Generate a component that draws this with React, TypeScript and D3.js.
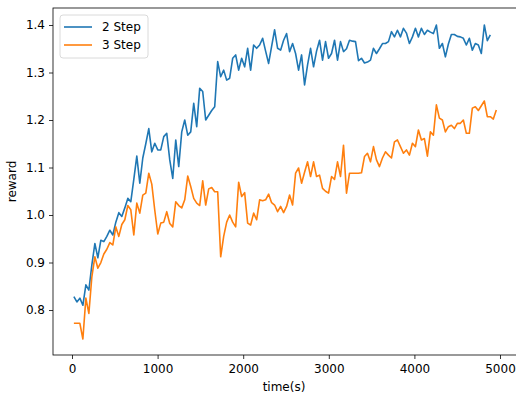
import React, { useEffect, useRef } from "react";
import * as d3 from "d3";

// reward per time step
const step2 = [
  0.828, 0.817, 0.825, 0.81, 0.853, 0.842, 0.895, 0.94, 0.91, 0.947,
  0.944, 0.955, 0.968, 0.958, 0.985, 1.005, 0.997, 1.015, 1.035, 1.028,
  1.075, 1.124, 1.067, 1.12, 1.15, 1.182, 1.133, 1.151, 1.137, 1.137,
  1.165, 1.172, 1.116, 1.077, 1.158, 1.102, 1.175, 1.2, 1.168, 1.175,
  1.235, 1.186, 1.267, 1.26, 1.2, 1.21, 1.22, 1.228, 1.323, 1.291,
  1.305, 1.284, 1.288, 1.33, 1.337, 1.305, 1.33, 1.312, 1.351, 1.305,
  1.358, 1.351, 1.358, 1.372, 1.345, 1.319, 1.355, 1.39, 1.351, 1.347,
  1.368, 1.382, 1.344, 1.361, 1.34, 1.305, 1.337, 1.274, 1.316, 1.351,
  1.312, 1.345, 1.368, 1.326, 1.365, 1.33, 1.34, 1.368, 1.326, 1.365,
  1.344, 1.35, 1.368, 1.366, 1.365, 1.325, 1.33, 1.32, 1.322, 1.326,
  1.351, 1.34, 1.35, 1.361, 1.361, 1.365, 1.386, 1.375, 1.389, 1.375,
  1.393, 1.383, 1.361, 1.375, 1.393, 1.375, 1.393, 1.38, 1.389, 1.385,
  1.382, 1.4, 1.351, 1.361, 1.333, 1.36, 1.38, 1.38, 1.376, 1.375,
  1.372, 1.358, 1.372, 1.347, 1.361, 1.358, 1.34, 1.4, 1.367, 1.379,
];

const step3 = [
  0.772, 0.772, 0.772, 0.739, 0.825, 0.793, 0.87, 0.912, 0.888, 0.9,
  0.918, 0.928, 0.942, 0.937, 0.975, 0.955, 0.98, 0.99, 1.02, 1.011,
  0.958, 1.025, 1.004, 1.042, 1.046, 1.088, 1.065, 1.01, 0.96, 0.983,
  0.985, 1.007, 0.982, 0.975, 1.028, 1.02, 1.015, 1.032, 1.082, 1.06,
  1.035, 1.025, 1.02, 1.072, 1.021, 1.055, 1.058, 1.049, 1.049, 0.912,
  0.955, 0.985, 1.0, 0.985, 0.975, 1.069, 1.039, 1.047, 0.983, 0.979,
  1.004, 0.99, 1.032, 1.03, 1.032, 1.044, 1.026, 1.021, 1.007, 1.018,
  1.005, 1.018, 1.042, 1.021, 1.088, 1.099, 1.067, 1.09, 1.112, 1.081,
  1.112, 1.081, 1.084, 1.056, 1.05, 1.046, 1.081, 1.075, 1.112, 1.081,
  1.147, 1.046, 1.088, 1.088, 1.088, 1.088, 1.089, 1.123, 1.13, 1.112,
  1.144, 1.116, 1.102, 1.12, 1.133, 1.126, 1.12, 1.154, 1.158, 1.144,
  1.13, 1.137, 1.126, 1.151, 1.144, 1.179, 1.158, 1.161, 1.124, 1.175,
  1.168, 1.232, 1.204, 1.2, 1.175, 1.186, 1.189, 1.182, 1.193, 1.193,
  1.2, 1.172, 1.172, 1.225, 1.228, 1.22, 1.23, 1.24, 1.207, 1.207,
  1.202, 1.221,
];

// sample times (s), logged every ~35 s
const t0 = 22;
const dt = 35;

const xTicks = [0, 1000, 2000, 3000, 4000, 5000];
const yTicks = [0.8, 0.9, 1.0, 1.1, 1.2, 1.3, 1.4];

const seriesNames = ["2 Step", "3 Step"];
const colors = ["#1f77b4", "#ff7f0e"];

const W = 516;
const H = 394;
// right spine sits just past the picture's edge
const margin = { left: 53, right: 0, top: 8, bottom: 39 };

export default function App() {
  const ref = useRef<SVGSVGElement>(null);

  useEffect(() => {
    const svg = d3.select(ref.current);
    svg.selectAll("*").remove();

    const x = d3.scaleLinear().domain([-222, 5187]).range([margin.left, W - margin.right]);
    const y = d3.scaleLinear().domain([0.7053, 1.4358]).range([H - margin.bottom, margin.top]);

    const font = "DejaVu Sans, sans-serif";

    const line = d3
      .line<number>()
      .x((d, i) => x(t0 + i * dt))
      .y((d) => y(d));

    [step2, step3].forEach((s, k) => {
      svg
        .append("path")
        .datum(s)
        .attr("fill", "none")
        .attr("stroke", colors[k])
        .attr("stroke-width", 1.6)
        .attr("stroke-linejoin", "round")
        .attr("d", line);
    });

    const gx = svg
      .append("g")
      .attr("transform", `translate(0,${H - margin.bottom})`)
      .call(d3.axisBottom(x).tickValues(xTicks).tickSize(4).tickPadding(5).tickFormat(d3.format("d")));
    const gy = svg
      .append("g")
      .attr("transform", `translate(${margin.left},0)`)
      .call(d3.axisLeft(y).tickValues(yTicks).tickSize(4).tickPadding(4).tickFormat(d3.format(".1f")));

    [gx, gy].forEach((g) => {
      g.select(".domain").remove();
      g.selectAll("text").attr("font-family", font).attr("font-size", 12).attr("fill", "#000");
      g.selectAll("line").attr("stroke", "#000").attr("stroke-width", 0.8);
    });

    // frame
    svg
      .append("rect")
      .attr("x", margin.left)
      .attr("y", margin.top)
      .attr("width", W - margin.right - margin.left + 1)
      .attr("height", H - margin.bottom - margin.top)
      .attr("fill", "none")
      .attr("stroke", "#000")
      .attr("stroke-width", 0.8);

    svg
      .append("text")
      .attr("x", 284)
      .attr("y", 391)
      .attr("text-anchor", "middle")
      .attr("font-family", font)
      .attr("font-size", 12)
      .text("time(s)");

    svg
      .append("text")
      .attr("transform", `translate(16,${(margin.top + H - margin.bottom) / 2}) rotate(-90)`)
      .attr("text-anchor", "middle")
      .attr("font-family", font)
      .attr("font-size", 12)
      .text("reward");

    // legend
    const lg = svg.append("g").attr("transform", "translate(60,15)");
    lg.append("rect")
      .attr("width", 88)
      .attr("height", 43)
      .attr("rx", 3)
      .attr("fill", "#fff")
      .attr("fill-opacity", 0.8)
      .attr("stroke", "#d0d0d0")
      .attr("stroke-width", 0.8);
    seriesNames.forEach((name, k) => {
      const yy = 12 + k * 18;
      lg.append("line")
        .attr("x1", 4)
        .attr("x2", 32)
        .attr("y1", yy)
        .attr("y2", yy)
        .attr("stroke", colors[k])
        .attr("stroke-width", 1.6);
      lg.append("text")
        .attr("x", 42)
        .attr("y", yy + 4.3)
        .attr("font-family", font)
        .attr("font-size", 12)
        .text(name);
    });
  }, []);

  return (
    <svg
      ref={ref}
      width={W}
      height={H}
      style={{ position: "absolute", left: 0, top: 0, background: "#fff" }}
    />
  );
}
